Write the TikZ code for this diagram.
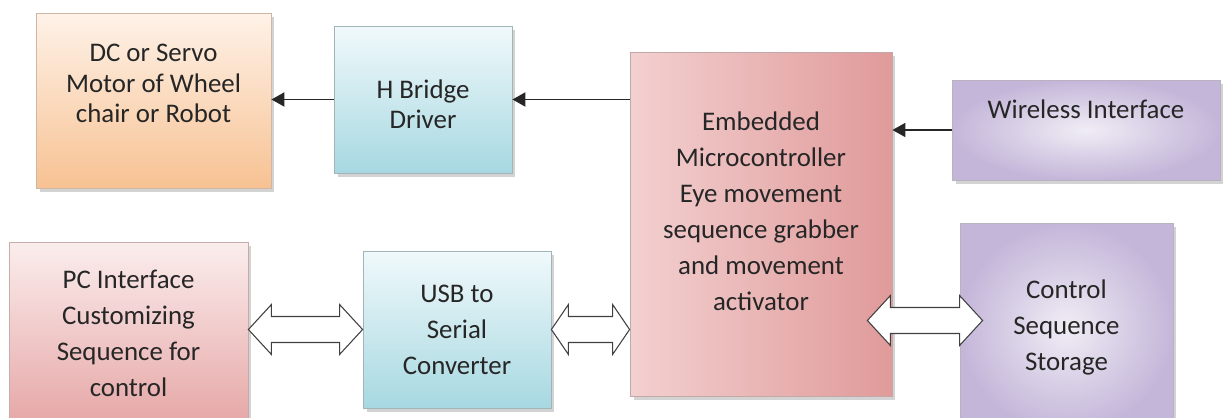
\documentclass[tikz,border=0pt]{standalone}
\usepackage{fontspec}
\setmainfont{Carlito}
\usetikzlibrary{arrows.meta,calc,shadows}
\definecolor{dcTop}{HTML}{FEF2E8}
\definecolor{dcBot}{HTML}{F7C293}
\definecolor{blTop}{HTML}{F0F9FB}
\definecolor{blBot}{HTML}{A7D8E1}
\definecolor{pkTop}{HTML}{FBEDED}
\definecolor{pkBot}{HTML}{E6A6A6}
\definecolor{emL}{HTML}{F3D0D0}
\definecolor{emR}{HTML}{E09A9A}
\definecolor{lvIn}{HTML}{F0EDF5}
\definecolor{lvOut}{HTML}{C4B6D9}

\newcommand{\twoway}[3]{%
  \draw[twoway] let \p1=(#1), \p2=(#2) in
    (\x1,\y1) -- (\x1+#3,\y1+0.5cm) -- (\x1+#3,\y1+0.26cm) -- (\x2-#3,\y2+0.26cm)
    -- (\x2-#3,\y2+0.5cm) -- (\x2,\y2) -- (\x2-#3,\y2-0.5cm) -- (\x2-#3,\y2-0.26cm)
    -- (\x1+#3,\y1-0.26cm) -- (\x1+#3,\y1-0.5cm) -- cycle;}

\begin{document}
\begin{tikzpicture}[x=0.02cm,y=-0.02cm,
  blk/.style={rectangle,align=center,inner sep=0pt,text=black!85,
    font=\fontsize{15.3}{20.5}\selectfont,line width=0.5pt,
    drop shadow={shadow xshift=2pt,shadow yshift=-2.5pt,opacity=0.35}},
  tight/.style={font=\fontsize{15.3}{17.6}\selectfont},
  arr/.style={draw=black!85,line width=1.1pt,-{Triangle[length=2.6mm,width=2.8mm]}},
  twoway/.style={draw=black!75,fill=white,line width=0.6pt,line join=miter}]
\useasboundingbox (0,0) rectangle (1232,418);
\clip (0,0) rectangle (1232,418);

\node[blk,tight,draw=dcBot!70!black!60,top color=dcTop,bottom color=dcBot,
  minimum width=4.7cm,text height=2.2cm,text depth=1.3cm] (dc) at (153.5,100.5)
  {DC or Servo\\Motor of Wheel\\chair or Robot};
\node[blk,tight,draw=blBot!60!black!60,top color=blTop,bottom color=blBot,
  minimum width=3.56cm,text height=2.06cm,text depth=0.88cm] (hb) at (423,99.5)
  {H Bridge\\Driver};
\node[blk,draw=emR!70!black!60,left color=emL,right color=emR,
  minimum width=5.24cm,text height=5.18cm,text depth=1.7cm] (em) at (761,224)
  {Embedded\\Microcontroller\\Eye movement\\sequence grabber\\and movement\\activator};
\node[blk,draw=lvOut!70!black!60,inner color=lvIn,outer color=lvOut,
  minimum width=5.36cm,text height=0.78cm,text depth=1.22cm] (wi) at (1086,130)
  {Wireless Interface};
\node[blk,draw=pkBot!70!black!60,top color=pkTop,bottom color=pkBot,
  minimum width=4.78cm,minimum height=3.66cm] (pc) at (128.5,333.5)
  {PC Interface\\Customizing\\Sequence for\\control};
\node[blk,draw=blBot!60!black!60,top color=blTop,bottom color=blBot,
  minimum width=3.76cm,minimum height=3.14cm] (us) at (457,329.5)
  {USB to\\Serial\\Converter};
\node[blk,draw=lvOut!70!black!60,inner color=lvIn,outer color=lvOut,
  minimum width=4.26cm,minimum height=4.18cm] (cs) at (1066.5,327.5)
  {Control\\Sequence\\Storage};

\draw[arr] (hb.west) -- (hb.west -| dc.east);
\draw[arr] (em.west |- hb.west) -- (hb.east);
\draw[arr] (wi.west) -- (wi.west -| em.east);
\twoway{pc.east |- us.west}{us.west}{0.46cm}
\twoway{us.east}{em.west |- us.east}{0.34cm}
\twoway{$(em.east |- cs.west)+(-25,-7)$}{$(cs.west)+(23,-7)$}{0.46cm}
\end{tikzpicture}
\end{document}
